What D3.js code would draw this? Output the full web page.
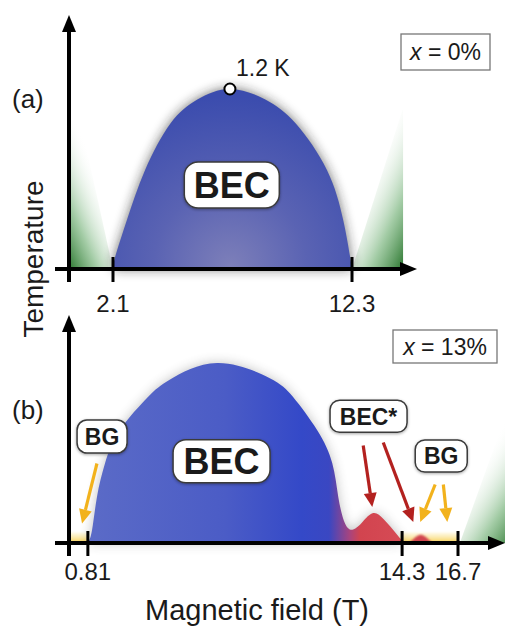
<!DOCTYPE html>
<html>
<head>
<meta charset="utf-8">
<style>
  body { margin: 0; background: #fff; }
  svg text { font-family: "Liberation Sans", Arial, sans-serif; fill: #1a1a1a; }
</style>
</head>
<body>
<div id="frame"></div>
<script src="https://cdnjs.cloudflare.com/ajax/libs/d3/7.8.5/d3.min.js"></script>
<script>
  // ---- data (field in T, temperature in K) ----
  var ticksA = [2.1, 12.3],
    ticksB = [0.81, 14.3, 16.7];

  var domeA = [[2.1, 0], [2.19, 0.08], [2.7, 0.33], [3.47, 0.66], [4.55, 0.97], [5.7, 1.13],
    [7.09, 1.2], [8.6, 1.13], [9.9, 0.97], [11.23, 0.66], [11.92, 0.33], [12.22, 0.08], [12.3, 0]];
  var peakA = [7.09, 1.2];

  var domeB = [[0.81, 0], [0.99, 0.087], [1.2, 0.307], [1.55, 0.533], [2.19, 0.753], [3.39, 0.973],
    [4.34, 1.09], [6.36, 1.2], [8.6, 1.1], [9.62, 0.973], [10.65, 0.753], [11.3, 0.533],
    [11.56, 0.307], [11.85, 0.13], [12.2, 0.09], [12.6, 0.14], [13.06, 0.2], [13.5, 0.16],
    [13.92, 0.087], [14.22, 0.03], [14.4, 0]];
  var bumpB = [[14.6, 0], [15.1, 0.055], [15.6, 0]];

  var greenA = [
    [[0.22, 0], [2.1, 0], [0.7, 0.99], [0.22, 0.99]],
    [[12.3, 0], [14.45, 1.06], [14.48, 1.06], [14.48, 0]]
  ];
  var greenB = [[[16.78, 0], [18.7, 0.83], [19.2, 0.83], [19.2, 0]]];

  var yellowB = [[0, 0.81], [14.2, 16.7]];

  var arrowsB = [
    { from: [1.2, 0.53], to: [0.56, 0.13], color: "#f2b21c" },
    { from: [12.63, 0.65], to: [13.02, 0.24], color: "#b3211f" },
    { from: [13.49, 0.67], to: [14.78, 0.14], color: "#b3211f" },
    { from: [15.72, 0.39], to: [15.08, 0.14], color: "#f2b21c" },
    { from: [16.07, 0.39], to: [16.24, 0.14], color: "#f2b21c" }
  ];

  var labelsA = [{ text: "BEC", at: [7.17, 0.56], w: 95, h: 46, size: 36 }];
  var labelsB = [
    { text: "BG", at: [1.42, 0.71], w: 50, h: 33, size: 23 },
    { text: "BEC", at: [6.55, 0.545], w: 97, h: 43, size: 36 },
    { text: "BEC*", at: [12.86, 0.845], w: 77, h: 32, size: 23 },
    { text: "BG", at: [15.98, 0.58], w: 52, h: 32, size: 23 }
  ];

  // ---- layout ----
  var width = 505, height = 626;
  var xA = d3.scaleLinear().domain([2.1, 12.3]).range([113, 352]),
    yA = d3.scaleLinear().domain([0, 1.2]).range([269, 89]);
  var xB = d3.scaleLinear().domain([0, 16.7]).range([69, 458]),
    yB = d3.scaleLinear().domain([0, 1.2]).range([543, 363]);
  var smooth = d3.curveCatmullRom.alpha(0.5);

  var svg = d3.select("#frame").append("svg")
    .attr("width", width)
    .attr("height", height);

  var defs = svg.append("defs");

  defs.append("filter").attr("id", "halo")
    .attr("x", "-20%").attr("y", "-20%").attr("width", "140%").attr("height", "140%")
    .append("feGaussianBlur").attr("stdDeviation", 6);
  defs.append("filter").attr("id", "soft")
    .append("feGaussianBlur").attr("stdDeviation", 1.2);
  var sh = defs.append("filter").attr("id", "boxshadow")
    .attr("x", "-20%").attr("y", "-20%").attr("width", "140%").attr("height", "150%");
  sh.append("feDropShadow").attr("dx", 0).attr("dy", 1).attr("stdDeviation", 1.5)
    .attr("flood-color", "#000").attr("flood-opacity", 0.35);

  var rg = defs.append("radialGradient").attr("id", "blueA")
    .attr("gradientUnits", "userSpaceOnUse")
    .attr("cx", xA(7.1)).attr("cy", yA(0.02)).attr("r", 170);
  rg.append("stop").attr("offset", 0).attr("stop-color", "#7d7fb9");
  rg.append("stop").attr("offset", 0.45).attr("stop-color", "#5a63b3");
  rg.append("stop").attr("offset", 1).attr("stop-color", "#3b4cae");

  var lg = defs.append("linearGradient").attr("id", "blueB")
    .attr("gradientUnits", "userSpaceOnUse")
    .attr("x1", xB(0.81)).attr("x2", xB(15.6)).attr("y1", 0).attr("y2", 0);
  [[0, "#5b6bc7"], [0.4, "#4b5cc6"], [0.62, "#3449c8"], [0.7, "#3a47c2"],
   [0.76, "#a8447e"], [0.79, "#d2444f"], [1, "#d9505a"]].forEach(function (s) {
    lg.append("stop").attr("offset", s[0]).attr("stop-color", s[1]);
  });

  function greenGrad(id, flip) {
    var g = defs.append("linearGradient").attr("id", id)
      .attr("x1", flip ? 1 : 0).attr("y1", 1).attr("x2", flip ? 0.3 : 0.7).attr("y2", 0);
    g.append("stop").attr("offset", 0).attr("stop-color", "#2a762e");
    g.append("stop").attr("offset", 0.3).attr("stop-color", "#8cbf8f").attr("stop-opacity", 0.8);
    g.append("stop").attr("offset", 0.75).attr("stop-color", "#ffffff").attr("stop-opacity", 0);
  }
  greenGrad("greenL", false);
  greenGrad("greenR", true);

  var yg = defs.append("linearGradient").attr("id", "yellow")
    .attr("x1", 0).attr("y1", 1).attr("x2", 0).attr("y2", 0);
  yg.append("stop").attr("offset", 0).attr("stop-color", "#f5cc45");
  yg.append("stop").attr("offset", 1).attr("stop-color", "#fbe9a8").attr("stop-opacity", 0.3);

  function shape(x, y, pts, curve) {
    return d3.line()
      .x(function (d) { return x(d[0]); })
      .y(function (d) { return y(d[1]); })
      .curve(curve || d3.curveLinear)(pts) + "Z";
  }

  // ---- panel (a) ----
  var ga = svg.append("g");
  ga.selectAll(".green").data(greenA).enter().append("path")
    .attr("d", function (d) { return shape(xA, yA, d); })
    .attr("fill", function (d, i) { return i === 0 ? "url(#greenL)" : "url(#greenR)"; });

  ga.append("path").attr("d", shape(xA, yA, domeA, d3.curveNatural))
    .attr("fill", "#222").attr("opacity", 0.65).attr("filter", "url(#halo)");
  ga.append("path").attr("d", shape(xA, yA, domeA, d3.curveNatural))
    .attr("fill", "url(#blueA)");

  // ---- panel (b) ----
  var gb = svg.append("g");
  gb.selectAll(".yellow").data(yellowB).enter().append("rect")
    .attr("x", function (d) { return xB(d[0]); })
    .attr("width", function (d) { return xB(d[1]) - xB(d[0]); })
    .attr("y", yB(0.07))
    .attr("height", yB(0) - yB(0.07))
    .attr("fill", "url(#yellow)")
    .attr("filter", "url(#soft)");

  gb.selectAll(".green").data(greenB).enter().append("path")
    .attr("d", function (d) { return shape(xB, yB, d); })
    .attr("fill", "url(#greenR)");

  gb.append("path").attr("d", shape(xB, yB, domeB, d3.curveNatural))
    .attr("fill", "#333").attr("opacity", 0.3).attr("filter", "url(#halo)");
  gb.append("path").attr("d", shape(xB, yB, domeB, d3.curveNatural))
    .attr("fill", "url(#blueB)");
  gb.append("path").attr("d", shape(xB, yB, bumpB, smooth))
    .attr("fill", "#d2444f").attr("filter", "url(#soft)");

  // arrows
  gb.selectAll(".arrow").data(arrowsB).enter().append("g").each(function (d) {
    var x1 = xB(d.from[0]), y1 = yB(d.from[1]), x2 = xB(d.to[0]), y2 = yB(d.to[1]);
    var dx = x2 - x1, dy = y2 - y1, L = Math.sqrt(dx * dx + dy * dy);
    var ux = dx / L, uy = dy / L, head = 14, hw = 6.5;
    var bx = x2 - ux * head, by = y2 - uy * head;
    var g = d3.select(this);
    g.append("line").attr("x1", x1).attr("y1", y1).attr("x2", bx).attr("y2", by)
      .attr("stroke", d.color).attr("stroke-width", 3.2);
    g.append("path")
      .attr("d", "M" + x2 + "," + y2 + "L" + (bx - uy * hw) + "," + (by + ux * hw) +
        "L" + (bx + uy * hw) + "," + (by - ux * hw) + "Z")
      .attr("fill", d.color);
  });

  // ---- axes ----
  function axis(g, x0, y0, top, left, right, scale, ticks, labelY) {
    g.append("line").attr("x1", left).attr("x2", right - 14).attr("y1", y0).attr("y2", y0)
      .attr("stroke", "#000").attr("stroke-width", 4);
    g.append("path").attr("d", "M" + right + "," + y0 + "L" + (right - 17) + "," + (y0 - 7) +
      "L" + (right - 17) + "," + (y0 + 7) + "Z").attr("fill", "#000");
    g.append("line").attr("x1", x0).attr("x2", x0).attr("y1", y0 + 13).attr("y2", top + 14)
      .attr("stroke", "#000").attr("stroke-width", 4);
    g.append("path").attr("d", "M" + x0 + "," + top + "L" + (x0 - 7) + "," + (top + 17) +
      "L" + (x0 + 7) + "," + (top + 17) + "Z").attr("fill", "#000");
    g.selectAll(".tick").data(ticks).enter().append("line")
      .attr("x1", function (d) { return scale(d); }).attr("x2", function (d) { return scale(d); })
      .attr("y1", y0 - 12).attr("y2", y0 + 13)
      .attr("stroke", "#000").attr("stroke-width", 3);
    g.selectAll(".tl").data(ticks).enter().append("text")
      .attr("x", function (d) { return scale(d); })
      .attr("y", labelY)
      .attr("text-anchor", "middle")
      .attr("font-size", 24)
      .attr("fill", "#222")
      .text(function (d) { return d; });
  }
  axis(ga, 69, yA(0), 15, 55, 417, xA, ticksA, 312);
  axis(gb, 69, yB(0), 315, 55, 505, xB, ticksB, 580);

  // peak marker
  ga.append("circle").attr("cx", xA(peakA[0])).attr("cy", yA(peakA[1])).attr("r", 5.5)
    .attr("fill", "#fff").attr("stroke", "#000").attr("stroke-width", 2);
  ga.append("text").attr("x", 236).attr("y", 76).attr("font-size", 23).text(peakA[1] + " K");

  // labels
  function labels(g, x, y, data) {
    var lab = g.selectAll(".lab").data(data).enter().append("g")
      .attr("transform", function (d) { return "translate(" + x(d.at[0]) + "," + y(d.at[1]) + ")"; });
    lab.append("rect")
      .attr("x", function (d) { return -d.w / 2; }).attr("y", function (d) { return -d.h / 2; })
      .attr("width", function (d) { return d.w; }).attr("height", function (d) { return d.h; })
      .attr("rx", function (d) { return d.h * 0.3; })
      .attr("fill", "#fff").attr("stroke", "#3a3a3a").attr("stroke-width", 1.5)
      .attr("filter", "url(#boxshadow)");
    lab.append("text")
      .attr("text-anchor", "middle")
      .attr("y", function (d) { return d.size * 0.36; })
      .attr("font-size", function (d) { return d.size; })
      .attr("font-weight", "bold")
      .attr("fill", "#111")
      .text(function (d) { return d.text; });
  }
  labels(ga, xA, yA, labelsA);
  labels(gb, xB, yB, labelsB);

  // composition boxes
  function compBox(x, y, w, h, pct) {
    svg.append("rect").attr("x", x).attr("y", y).attr("width", w).attr("height", h)
      .attr("fill", "#fff").attr("stroke", "#777").attr("stroke-width", 1.3);
    var t = svg.append("text").attr("x", x + w / 2).attr("y", y + h / 2 + 8)
      .attr("text-anchor", "middle").attr("font-size", 23);
    t.append("tspan").attr("font-style", "italic").text("x");
    t.append("tspan").text(" = " + pct + "%");
  }
  compBox(401, 34, 89, 36, 0);
  compBox(393, 330, 104, 33, 13);

  // panel letters and axis titles
  svg.append("text").attr("x", 12).attr("y", 108).attr("font-size", 26).attr("fill", "#333").text("(a)");
  svg.append("text").attr("x", 12).attr("y", 419).attr("font-size", 26).attr("fill", "#333").text("(b)");
  svg.append("text").attr("transform", "translate(43,259) rotate(-90)")
    .attr("text-anchor", "middle").attr("font-size", 28).attr("fill", "#333").text("Temperature");
  svg.append("text").attr("x", 257).attr("y", 620)
    .attr("text-anchor", "middle").attr("font-size", 29).attr("fill", "#333").text("Magnetic field (T)");
</script>
</body>
</html>
